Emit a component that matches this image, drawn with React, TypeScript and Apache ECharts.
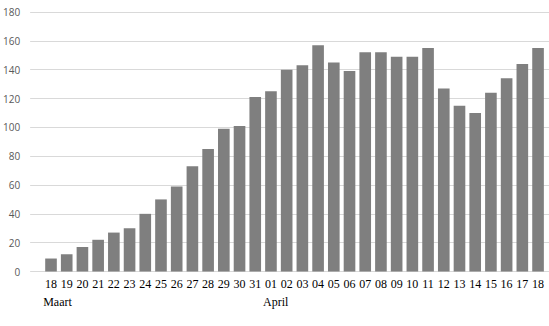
import React, { useEffect, useRef } from "react";
import * as echarts from "echarts";

const days = [
  "18", "19", "20", "21", "22", "23", "24", "25", "26", "27", "28", "29", "30", "31",
  "01", "02", "03", "04", "05", "06", "07", "08", "09", "10", "11", "12", "13", "14", "15", "16", "17", "18",
];
const values = [
  9, 12, 17, 22, 27, 30, 40, 50, 59, 73, 85, 99, 101, 121,
  125, 140, 143, 157, 145, 139, 152, 152, 149, 149, 155, 127, 115, 110, 124, 134, 144, 155,
];
const monthStarts = [0, 14];
const monthNames = ["Maart", "April"];
const yTicks = { min: 0, max: 180, interval: 20 };

export default function App() {
  const ref = useRef<HTMLDivElement>(null);
  useEffect(() => {
    if (!ref.current) return;
    const chart = echarts.init(ref.current, undefined, { renderer: "svg" });
    chart.setOption({
      animation: false,
      backgroundColor: "#ffffff",
      grid: [
        { left: 30, right: 0, top: 12, bottom: 54.5 },
        { left: 43.15, right: 3.1, top: 12, bottom: 54.5 },
      ],
      xAxis: [
        { type: "value", gridIndex: 0, show: false, min: 0, max: 1 },
        {
          type: "category",
          gridIndex: 1,
          data: days,
          axisLine: { show: false },
          axisTick: { show: false },
          axisLabel: {
            interval: 0,
            color: "#000000",
            fontFamily: "Liberation Serif",
            fontSize: 12,
            margin: 6,
          },
        },
        {
          type: "value",
          gridIndex: 1,
          min: 0,
          max: days.length,
          interval: 1,
          position: "bottom",
          offset: 18.5,
          axisLine: { show: false },
          axisTick: { show: false },
          splitLine: { show: false },
          axisLabel: {
            color: "#000000",
            fontFamily: "Liberation Serif",
            fontSize: 12,
            margin: 6,
            align: "left",
            showMinLabel: true,
            showMaxLabel: false,
            formatter: (v: number) => {
              const i = monthStarts.indexOf(v);
              return i >= 0 ? monthNames[i] : "";
            },
          },
        },
      ],
      yAxis: [
        {
          type: "value",
          gridIndex: 0,
          ...yTicks,
          axisLine: { show: false },
          axisTick: { show: false },
          splitLine: { lineStyle: { color: "#d9d9d9", width: 1 } },
          axisLabel: { color: "#595959", fontSize: 10, fontFamily: "Open Sans", margin: 10 },
        },
        { type: "value", gridIndex: 1, ...yTicks, show: false },
      ],
      series: [
        {
          type: "bar",
          xAxisIndex: 1,
          yAxisIndex: 1,
          data: values,
          barCategoryGap: "26%",
          itemStyle: { color: "#7f7f7f" },
        },
      ],
    });
    return () => chart.dispose();
  }, []);
  return (
    <div
      ref={ref}
      style={{ position: "fixed", left: 0, top: 0, width: 549, height: 326 }}
    />
  );
}
